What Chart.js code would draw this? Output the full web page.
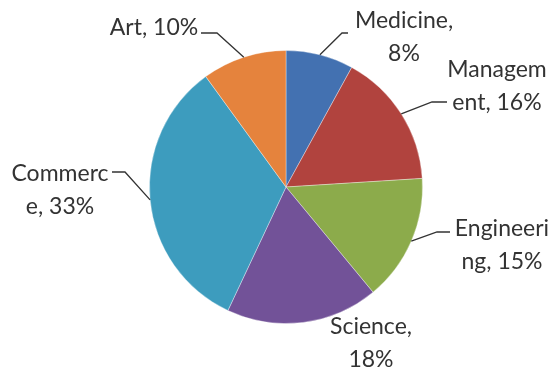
<!DOCTYPE html>
<html>
<head>
<meta charset="utf-8">
<script src="https://cdn.jsdelivr.net/npm/chart.js@4.4.1/dist/chart.umd.min.js"></script>
<style>
  html, body { margin: 0; padding: 0; background: #fff; }
  #wrap { width: 556px; height: 370px; }
</style>
</head>
<body>
<div id="wrap"><canvas id="pieChart" width="556" height="370"></canvas></div>
<script>
// chart data
const categories = ['Medicine', 'Management', 'Engineering', 'Science', 'Commerce', 'Art'];
const shares = [8, 16, 15, 18, 33, 10];
// data labels as Excel wrapped them
const labelLines = [
  ['Medicine,', '8%'],
  ['Managem', 'ent, 16%'],
  ['Engineeri', 'ng, 15%'],
  ['Science,', '18%'],
  ['Commerc', 'e, 33%'],
  ['Art, 10%']
];
const sliceColors = ['#4371b1', '#b1433e', '#8cab4b', '#725298', '#3d9cbe', '#e5833d'];

// where each label sits: text centre x, first baseline, and the leader line (elbow, end)
const labelLayout = [
  { x: 404, y: 28,  elbow: [342, 33],  end: [348, 33] },
  { x: 497, y: 77,  elbow: [432, 102], end: [447, 102] },
  { x: 502, y: 236, elbow: [437, 232], end: [450, 232] },
  { x: 371, y: 334, elbow: null,       end: null },
  { x: 60,  y: 181, elbow: [125, 172], end: [112, 172] },
  { x: 154, y: 35,  elbow: [217, 33],  end: [201, 33] }
];

const pieLabels = {
  id: 'pieLabels',
  afterDraw(chart) {
    const ctx = chart.ctx;
    const arcs = chart.getDatasetMeta(0).data;
    ctx.save();
    arcs.forEach((arc, i) => {
      const lay = labelLayout[i];
      if (lay.elbow) {
        // start the leader on the rim, at the middle of the slice
        const mid = (arc.startAngle + arc.endAngle) / 2;
        const ax = arc.x + Math.cos(mid) * arc.outerRadius;
        const ay = arc.y + Math.sin(mid) * arc.outerRadius;
        ctx.beginPath();
        ctx.moveTo(ax, ay);
        ctx.lineTo(lay.elbow[0], lay.elbow[1]);
        ctx.lineTo(lay.end[0], lay.end[1]);
        ctx.strokeStyle = '#333';
        ctx.lineWidth = 1.3;
        ctx.stroke();
      }
      ctx.fillStyle = '#333';
      ctx.font = '23px Lato, "Open Sans", sans-serif';
      ctx.textAlign = 'center';
      ctx.textBaseline = 'alphabetic';
      labelLines[i].forEach((line, k) => {
        ctx.fillText(line, lay.x, lay.y + k * 33);
      });
    });
    ctx.restore();
  }
};

new Chart(document.getElementById('pieChart'), {
  type: 'pie',
  data: {
    labels: categories,
    datasets: [{
      data: shares,
      backgroundColor: sliceColors,
      borderColor: 'rgba(255,255,255,0.35)',
      borderWidth: 1
    }]
  },
  options: {
    responsive: false,
    animation: false,
    layout: {
      padding: { left: 149, right: 133, top: 50, bottom: 46 }
    },
    plugins: {
      legend: { display: false },
      tooltip: { enabled: false }
    }
  },
  plugins: [pieLabels]
});
</script>
</body>
</html>
